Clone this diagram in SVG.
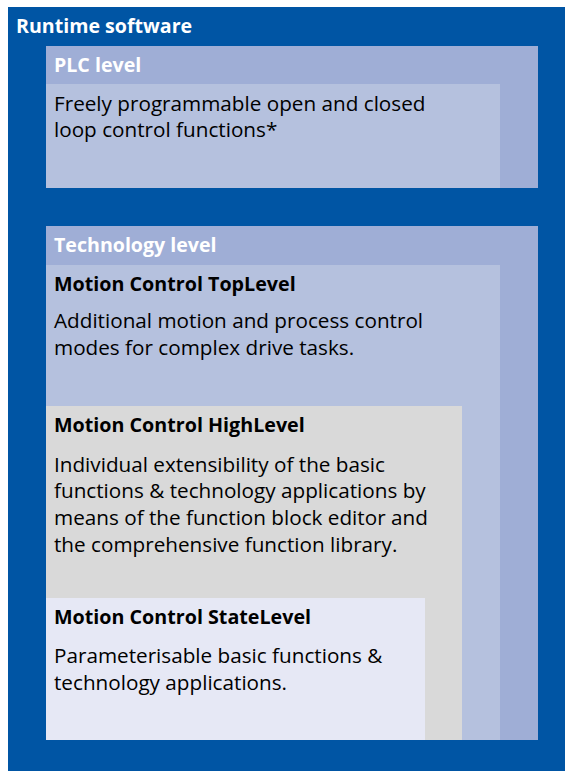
<svg xmlns="http://www.w3.org/2000/svg" width="565" height="771" viewBox="0 0 565 771">
<style>
.t{font-family:"Open Sans","Noto Sans",sans-serif;font-size:20.7px;fill:#000}
.h{font-family:"Open Sans","Noto Sans",sans-serif;font-size:19.7px;font-weight:bold;fill:#000}
.w{font-family:"Open Sans","Noto Sans",sans-serif;font-size:19.6px;font-weight:bold;fill:#fff}
</style>
<rect width="565" height="771" fill="#fff"/>
<g id="runtime">
<rect x="8" y="7" width="557" height="764" fill="#0055A4"/>
<text class="w" x="16" y="33">Runtime software</text>
</g>
<g id="plc">
<rect x="46" y="46" width="492" height="142" fill="#9FAED6"/>
<rect x="46" y="84" width="454" height="104" fill="#B5C1DE"/>
<text class="w" x="54" y="72">PLC level</text>
<text class="t" x="54" y="111">Freely programmable open and closed</text>
<text class="t" x="54" y="137">loop control functions*</text>
</g>
<g id="technology">
<rect x="46" y="226" width="492" height="514" fill="#9FAED6"/>
<text class="w" x="54" y="252">Technology level</text>
</g>
<g id="toplevel">
<rect x="46" y="265" width="454" height="475" fill="#B5C1DE"/>
<text class="h" x="54" y="291">Motion Control TopLevel</text>
<text class="t" x="54" y="328">Additional motion and process control</text>
<text class="t" x="54" y="355">modes for complex drive tasks.</text>
</g>
<g id="highlevel">
<rect x="46" y="406" width="416" height="334" fill="#D9D9D9"/>
<text class="h" x="54" y="432">Motion Control HighLevel</text>
<text class="t" x="54" y="472">Individual extensibility of the basic</text>
<text class="t" x="54" y="498">functions &amp; technology applications by</text>
<text class="t" x="54" y="525">means of the function block editor and</text>
<text class="t" x="54" y="552">the comprehensive function library.</text>
</g>
<g id="statelevel">
<rect x="46" y="598" width="379" height="142" fill="#E6E8F5"/>
<text class="h" x="54" y="624">Motion Control StateLevel</text>
<text class="t" x="54" y="663">Parameterisable basic functions &amp;</text>
<text class="t" x="54" y="690">technology applications.</text>
</g>
<g id="connectors"/>
</svg>
